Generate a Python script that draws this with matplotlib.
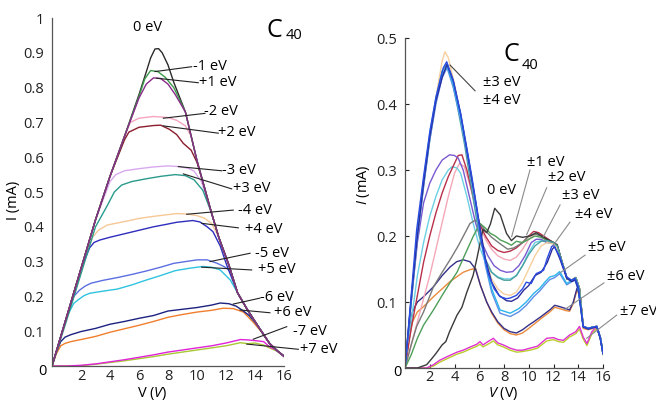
import matplotlib
matplotlib.use("Agg")
import matplotlib.pyplot as plt

plt.rcParams['font.family'] = ['Open Sans', 'DejaVu Sans']
plt.rcParams['mathtext.fontset'] = 'custom'
plt.rcParams['mathtext.rm'] = 'Open Sans'
plt.rcParams['mathtext.it'] = 'Open Sans:italic'

# ---------------- left panel: I-V curves, bias offsets ----------------
v_0 = [0, 1, 2, 3, 4, 5, 6, 6.5, 6.8, 7.1, 7.35, 7.6, 8, 8.4, 9.2, 10, 10.5, 11, 11.5, 12.2, 12.8, 13.5, 14.2, 15, 15.5, 16]
i_0 = [0, 0.14, 0.28, 0.42, 0.545, 0.66, 0.78, 0.845, 0.885, 0.911, 0.912, 0.9, 0.865, 0.815, 0.73, 0.59, 0.515, 0.44, 0.37, 0.29, 0.21, 0.16, 0.115, 0.065, 0.045, 0.028]

v_m1 = [0, 1, 2, 3, 4, 5, 6, 6.4, 6.8, 7.3, 7.8, 8.4, 9.2, 10, 10.5, 11, 11.5, 12.2, 12.8, 13.5, 14.2, 15, 15.5, 16]
i_m1 = [0, 0.14, 0.28, 0.42, 0.545, 0.66, 0.775, 0.825, 0.849, 0.846, 0.83, 0.8, 0.73, 0.59, 0.515, 0.44, 0.37, 0.29, 0.21, 0.16, 0.115, 0.065, 0.045, 0.028]

v_p1 = [0, 1, 2, 3, 4, 5, 6, 6.5, 7.0, 7.5, 8.0, 8.5, 9.2, 10, 10.5, 11, 11.5, 12.2, 12.8, 13.5, 14.2, 15, 15.5, 16]
i_p1 = [0, 0.14, 0.28, 0.42, 0.545, 0.66, 0.77, 0.81, 0.828, 0.826, 0.81, 0.78, 0.73, 0.59, 0.515, 0.44, 0.37, 0.29, 0.21, 0.16, 0.115, 0.065, 0.045, 0.028]

v_m2 = [0, 1, 2, 3, 4, 5, 5.4, 6, 7, 8, 8.6, 9.2, 9.6, 10, 10.5, 11, 11.5, 12.2, 12.8, 13.5, 14.2, 15, 15.5, 16]
i_m2 = [0, 0.14, 0.28, 0.42, 0.545, 0.66, 0.7, 0.712, 0.717, 0.714, 0.706, 0.69, 0.66, 0.59, 0.515, 0.44, 0.37, 0.29, 0.21, 0.16, 0.115, 0.065, 0.045, 0.028]

v_p2 = [0, 1, 2, 3, 4, 5, 5.3, 6, 7, 7.5, 8.1, 8.6, 9.05, 9.6, 10, 10.5, 11, 11.5, 12.2, 12.8, 13.5, 14.2, 15, 15.5, 16]
i_p2 = [0, 0.14, 0.28, 0.42, 0.545, 0.65, 0.672, 0.686, 0.691, 0.692, 0.68, 0.665, 0.64, 0.62, 0.585, 0.515, 0.44, 0.37, 0.29, 0.21, 0.16, 0.115, 0.065, 0.045, 0.028]

v_m3 = [0, 1, 2, 3, 4, 4.4, 5, 6, 7, 8, 8.8, 9.4, 9.8, 10.3, 11, 11.5, 12.2, 12.8, 13.5, 14.2, 15, 15.5, 16]
i_m3 = [0, 0.14, 0.28, 0.42, 0.53, 0.55, 0.561, 0.567, 0.572, 0.575, 0.573, 0.568, 0.56, 0.53, 0.44, 0.37, 0.29, 0.21, 0.16, 0.115, 0.065, 0.045, 0.028]

v_p3 = [0, 1, 2, 3, 3.8, 4.3, 4.8, 5.5, 6.5, 7.5, 8.5, 9.2, 9.8, 10.4, 11, 11.5, 12.2, 12.8, 13.5, 14.2, 15, 15.5, 16]
i_p3 = [0, 0.13, 0.265, 0.4, 0.46, 0.5, 0.52, 0.53, 0.538, 0.545, 0.55, 0.547, 0.535, 0.505, 0.44, 0.37, 0.29, 0.21, 0.16, 0.115, 0.065, 0.045, 0.028]

v_m4 = [0, 1, 2, 2.8, 3.2, 3.8, 5, 6, 7, 8, 8.6, 9.3, 10, 10.5, 11, 11.5, 12.2, 12.8, 13.5, 14.2, 15, 15.5, 16]
i_m4 = [0, 0.14, 0.28, 0.37, 0.39, 0.405, 0.415, 0.424, 0.43, 0.435, 0.438, 0.437, 0.432, 0.425, 0.41, 0.37, 0.29, 0.21, 0.16, 0.115, 0.065, 0.045, 0.028]

v_p4 = [0, 1, 2, 2.6, 2.9, 3.3, 4, 5, 6, 7, 8, 8.6, 9.7, 10.2, 10.7, 11.1, 11.6, 12.05, 12.8, 13.5, 14.2, 15, 15.5, 16]
i_p4 = [0, 0.14, 0.28, 0.34, 0.355, 0.362, 0.37, 0.38, 0.39, 0.4, 0.408, 0.413, 0.418, 0.414, 0.4, 0.386, 0.345, 0.29, 0.21, 0.16, 0.115, 0.065, 0.045, 0.028]

v_m5 = [0, 0.5, 1, 1.5, 1.9, 2.3, 2.7, 3.5, 4.5, 5.5, 6.5, 7.5, 8.4, 9.2, 10, 10.7, 11.4, 11.9, 12.3, 12.8, 13.5, 14.2, 15, 15.5, 16]
i_m5 = [0, 0.07, 0.14, 0.2, 0.218, 0.23, 0.238, 0.246, 0.254, 0.263, 0.273, 0.284, 0.295, 0.3, 0.305, 0.305, 0.295, 0.285, 0.272, 0.21, 0.16, 0.115, 0.065, 0.045, 0.028]

v_p5 = [0, 0.5, 1, 1.5, 1.8, 2.2, 2.6, 3.5, 4.5, 5.5, 6.5, 7.5, 8.5, 9.5, 10.4, 11, 11.6, 12.3, 12.8, 13.5, 14.2, 15, 15.5, 16]
i_p5 = [0, 0.07, 0.14, 0.18, 0.19, 0.202, 0.209, 0.215, 0.221, 0.233, 0.247, 0.26, 0.274, 0.281, 0.286, 0.284, 0.276, 0.247, 0.21, 0.16, 0.115, 0.065, 0.045, 0.028]

v_m6 = [0, 0.3, 0.6, 0.9, 1.3, 2, 3, 4, 5, 6, 7, 8, 9, 10, 11, 11.6, 12.2, 12.7, 13.2, 13.6, 14.2, 15, 15.5, 16]
i_m6 = [0, 0.04, 0.07, 0.083, 0.09, 0.099, 0.108, 0.12, 0.128, 0.137, 0.145, 0.158, 0.163, 0.168, 0.175, 0.181, 0.179, 0.172, 0.158, 0.145, 0.115, 0.065, 0.045, 0.028]

v_p6 = [0, 0.3, 0.6, 0.9, 1.3, 2, 3, 4, 5, 6, 7, 8, 9, 10, 11, 11.8, 12.5, 13.2, 13.9, 14.5, 15, 15.5, 16]
i_p6 = [0, 0.035, 0.058, 0.065, 0.07, 0.076, 0.085, 0.097, 0.107, 0.117, 0.128, 0.14, 0.148, 0.155, 0.16, 0.166, 0.165, 0.155, 0.125, 0.095, 0.065, 0.045, 0.028]

v_m7 = [0, 1, 2, 3, 4, 5, 6, 7, 8, 9, 10, 11, 12, 13, 13.5, 14, 14.6, 15, 15.5, 16]
i_m7 = [0, 0, 0.002, 0.006, 0.012, 0.018, 0.025, 0.032, 0.04, 0.046, 0.052, 0.058, 0.066, 0.076, 0.075, 0.073, 0.07, 0.055, 0.045, 0.028]

v_p7 = [0, 1, 2, 3, 4, 5, 6, 7, 8, 9, 10, 11, 12, 13, 13.5, 14, 14.6, 15, 15.5, 16]
i_p7 = [0, 0, 0.001, 0.005, 0.01, 0.015, 0.021, 0.027, 0.034, 0.04, 0.046, 0.052, 0.058, 0.067, 0.064, 0.066, 0.06, 0.052, 0.043, 0.027]

left_series = [
    (v_p7, i_p7, '#a8c834'), (v_m7, i_m7, '#e022d8'),
    (v_p6, i_p6, '#f07e2c'), (v_m6, i_m6, '#1c2280'),
    (v_p5, i_p5, '#2fc3e0'), (v_m5, i_m5, '#5b6fe0'),
    (v_m4, i_m4, '#f6c896'), (v_p4, i_p4, '#2d2dbe'),
    (v_m3, i_m3, '#d8a8f0'), (v_p3, i_p3, '#2a9a8c'),
    (v_m2, i_m2, '#f5a5bd'), (v_p2, i_p2, '#8b1c2c'),
    (v_0, i_0, '#2b2b2b'), (v_m1, i_m1, '#3c9a4a'), (v_p1, i_p1, '#8a2a8a'),
]

left_labels = ['-1 eV', '+1 eV', '-2 eV', '+2 eV', '-3 eV', '+3 eV', '-4 eV',
               '+4 eV', '-5 eV', '+5 eV', '-6 eV', '+6 eV', '-7 eV', '+7 eV']
left_text_v = [9.72, 10.14, 10.48, 11.45, 11.72, 12.48, 12.83, 13.31, 14.0, 14.21, 14.34, 15.31, 16.6, 17.1]
left_text_i = [0.86, 0.814, 0.731, 0.67, 0.563, 0.509, 0.446, 0.391, 0.322, 0.276, 0.197, 0.153, 0.099, 0.048]
left_lead_v0 = [7.10, 7.22, 7.68, 7.68, 8.71, 9.06, 9.29, 10.32, 10.9, 10.32, 12.5, 12.97, 13.88, 13.43]
left_lead_i0 = [0.846, 0.827, 0.712, 0.69, 0.573, 0.552, 0.436, 0.41, 0.3, 0.284, 0.178, 0.161, 0.077, 0.063]
left_lead_v1 = [9.63, 10.09, 10.55, 11.47, 11.70, 12.39, 12.5, 12.85, 13.66, 13.77, 14.34, 15.03, 16.19, 16.99]
left_lead_i1 = [0.86, 0.814, 0.726, 0.669, 0.561, 0.509, 0.448, 0.397, 0.324, 0.276, 0.195, 0.153, 0.113, 0.048]

# ---------------- right panel ----------------
tail_v = [12.7, 13.1, 13.5, 13.8, 14.1, 14.4, 14.8, 15.2, 15.5, 15.8, 16]

v_r0 = [0, 1, 1.75, 2.2, 2.5, 3, 3.3, 3.6, 4.2, 4.6, 5, 5.5, 5.8, 6.3, 6.6, 6.9, 7.25, 7.7, 8.2, 8.6, 9, 9.5, 10.1, 10.6, 11.2, 11.8, 12.3] + tail_v
i_r0 = [0, 0, 0.005, 0.015, 0.022, 0.035, 0.04, 0.055, 0.08, 0.092, 0.115, 0.14, 0.165, 0.21, 0.205, 0.218, 0.242, 0.232, 0.204, 0.193, 0.2, 0.198, 0.2, 0.205, 0.198, 0.192, 0.187,
        0.16, 0.135, 0.133, 0.137, 0.12, 0.063, 0.06, 0.062, 0.063, 0.045, 0.022]

v_rg = [0, 0.5, 1, 1.5, 2.3, 3, 3.6, 4.2, 4.8, 5.5, 6.06, 6.5, 6.9, 7.3, 7.7, 8.2, 8.6, 9, 9.5, 10, 10.5, 11, 11.5, 12, 12.3] + tail_v
i_rg = [0, 0.02, 0.045, 0.065, 0.088, 0.11, 0.128, 0.145, 0.17, 0.199, 0.219, 0.212, 0.204, 0.2, 0.194, 0.19, 0.186, 0.192, 0.19, 0.195, 0.2, 0.198, 0.193, 0.19, 0.185,
        0.16, 0.135, 0.133, 0.137, 0.12, 0.063, 0.06, 0.062, 0.063, 0.045, 0.022]

v_rk = [0, 0.5, 0.94, 1.5, 2.3, 3, 3.64, 4.3, 5, 5.25, 5.66, 6, 6.5, 7, 7.7, 8.3, 8.8, 9.5, 10, 10.5, 11, 11.5, 12, 12.3] + tail_v
i_rk = [0, 0.035, 0.063, 0.085, 0.123, 0.145, 0.164, 0.185, 0.21, 0.219, 0.224, 0.22, 0.208, 0.198, 0.188, 0.18, 0.182, 0.19, 0.2, 0.203, 0.2, 0.195, 0.19, 0.185,
        0.16, 0.135, 0.133, 0.137, 0.12, 0.063, 0.06, 0.062, 0.063, 0.045, 0.022]

v_rr = [0, 0.5, 1, 1.5, 2, 2.5, 3, 3.5, 4, 4.3, 4.6, 5, 5.5, 6, 6.5, 7, 7.5, 8, 8.5, 9, 9.5, 10, 10.4, 10.8, 11.2, 11.6, 12, 12.3] + tail_v
i_rr = [0, 0.06, 0.11, 0.16, 0.2, 0.235, 0.265, 0.29, 0.31, 0.322, 0.323, 0.3, 0.26, 0.22, 0.2, 0.185, 0.178, 0.175, 0.177, 0.182, 0.19, 0.2, 0.207, 0.205, 0.2, 0.195, 0.19, 0.185,
        0.16, 0.135, 0.133, 0.137, 0.12, 0.063, 0.06, 0.062, 0.063, 0.045, 0.022]

v_rp = [0, 1, 2, 3, 3.5, 4, 4.4, 4.8, 5.2, 5.6, 6, 6.5, 7, 7.5, 8, 8.5, 9, 9.5, 10, 10.5, 11, 11.5, 12, 12.3] + tail_v
i_rp = [0, 0.07, 0.14, 0.22, 0.26, 0.295, 0.31, 0.305, 0.28, 0.25, 0.22, 0.195, 0.18, 0.17, 0.165, 0.163, 0.168, 0.18, 0.195, 0.203, 0.2, 0.195, 0.19, 0.185,
        0.16, 0.135, 0.133, 0.137, 0.12, 0.063, 0.06, 0.062, 0.063, 0.045, 0.022]

v_rv = [0, 0.5, 1, 1.5, 2, 2.5, 3, 3.6, 4, 4.3, 4.7, 5.2, 5.7, 6.2, 6.7, 7.2, 7.7, 8.2, 8.7, 9.2, 9.7, 10.2, 10.6, 11, 11.5, 12, 12.3] + tail_v
i_rv = [0, 0.1, 0.19, 0.25, 0.28, 0.3, 0.315, 0.323, 0.322, 0.318, 0.3, 0.26, 0.22, 0.19, 0.17, 0.155, 0.148, 0.145, 0.146, 0.155, 0.17, 0.19, 0.195, 0.195, 0.19, 0.19, 0.185,
        0.16, 0.135, 0.133, 0.137, 0.12, 0.063, 0.06, 0.062, 0.063, 0.045, 0.022]

v_rc = [0, 0.5, 1, 1.5, 2, 2.5, 3, 3.5, 3.8, 4.2, 4.5, 5, 5.5, 6, 6.5, 7, 7.5, 8, 8.5, 9, 9.5, 10, 10.5, 11, 11.5, 12, 12.3] + tail_v
i_rc = [0, 0.07, 0.14, 0.19, 0.23, 0.26, 0.285, 0.3, 0.305, 0.303, 0.295, 0.26, 0.22, 0.185, 0.16, 0.145, 0.138, 0.135, 0.135, 0.14, 0.155, 0.175, 0.19, 0.193, 0.19, 0.188, 0.185,
        0.16, 0.135, 0.133, 0.137, 0.12, 0.063, 0.06, 0.062, 0.063, 0.045, 0.022]

v_ro = [0, 0.5, 1, 1.5, 2, 2.5, 3, 3.23, 3.5, 4, 4.5, 5, 5.5, 6, 6.5, 7, 7.5, 8, 8.5, 9, 9.5, 10, 10.5, 11, 11.5, 12, 12.3] + tail_v
i_ro = [0, 0.1, 0.2, 0.28, 0.35, 0.41, 0.465, 0.479, 0.47, 0.43, 0.38, 0.33, 0.27, 0.21, 0.165, 0.135, 0.12, 0.112, 0.11, 0.115, 0.13, 0.15, 0.17, 0.185, 0.19, 0.188, 0.183,
        0.16, 0.135, 0.133, 0.137, 0.12, 0.063, 0.06, 0.062, 0.063, 0.045, 0.022]

v_rt = [0, 0.5, 1, 1.5, 2, 2.5, 3, 3.35, 3.7, 4.2, 4.8, 5.4, 6, 6.5, 7, 7.5, 8, 8.5, 9, 9.5, 10, 10.5, 11, 11.5, 12, 12.3] + tail_v
i_rt = [0, 0.1, 0.2, 0.275, 0.345, 0.405, 0.45, 0.46, 0.445, 0.4, 0.34, 0.27, 0.2, 0.165, 0.145, 0.137, 0.133, 0.133, 0.14, 0.155, 0.172, 0.185, 0.192, 0.193, 0.19, 0.185,
        0.16, 0.135, 0.133, 0.137, 0.12, 0.063, 0.06, 0.062, 0.063, 0.045, 0.022]

v_rb = [0, 0.5, 0.94, 1.5, 2.02, 2.5, 2.83, 3.1, 3.37, 3.9, 4.5, 4.98, 5.4, 5.79, 6.2, 6.73, 7.2, 7.68, 8.2, 8.5, 9, 9.5, 9.8, 10.2, 10.6, 11.2, 11.45, 11.85, 12.0, 12.5, 13.07, 13.47, 13.74, 14.0, 14.4, 14.8, 15.2, 15.5, 15.76, 16]
i_rb = [0, 0.11, 0.209, 0.29, 0.36, 0.41, 0.436, 0.455, 0.464, 0.436, 0.385, 0.335, 0.29, 0.244, 0.189, 0.143, 0.12, 0.108, 0.105, 0.106, 0.11, 0.12, 0.13, 0.128, 0.143, 0.148, 0.164, 0.184, 0.186, 0.169, 0.138, 0.133, 0.136, 0.123, 0.063, 0.06, 0.062, 0.063, 0.047, 0.022]

v_rn = [0, 0.5, 1, 1.5, 2, 2.5, 3, 3.4, 3.9, 4.5, 5, 5.5, 6, 6.5, 7, 7.6, 8.2, 8.6, 9.1, 9.6, 10, 10.5, 11, 11.5, 11.9, 12.1, 12.5, 13.07, 13.47, 13.74, 14.0, 14.4, 14.8, 15.2, 15.5, 15.76, 16]
i_rn = [0, 0.105, 0.2, 0.28, 0.35, 0.405, 0.44, 0.46, 0.435, 0.385, 0.33, 0.275, 0.22, 0.165, 0.13, 0.11, 0.102, 0.101, 0.106, 0.118, 0.125, 0.14, 0.145, 0.16, 0.18, 0.184, 0.166, 0.136, 0.131, 0.134, 0.12, 0.062, 0.059, 0.061, 0.062, 0.046, 0.022]

v_rs = [0, 0.5, 1, 1.5, 2, 2.5, 3, 3.4, 3.9, 4.5, 5, 5.5, 6, 6.5, 7, 7.68, 8.5, 9.2, 9.8, 10.4, 10.9, 11.3, 11.7, 12.1, 12.5, 13.07, 13.5, 13.74, 14.0, 14.4, 14.8, 15.2, 15.5, 15.8, 16]
i_rs = [0, 0.105, 0.205, 0.285, 0.355, 0.41, 0.445, 0.458, 0.43, 0.38, 0.33, 0.275, 0.215, 0.16, 0.12, 0.088, 0.083, 0.09, 0.1, 0.113, 0.121, 0.13, 0.138, 0.14, 0.146, 0.128, 0.133, 0.135, 0.12, 0.063, 0.06, 0.062, 0.063, 0.045, 0.022]

v_rl = [0, 0.5, 1, 1.5, 2, 2.5, 3, 3.4, 3.9, 4.5, 5, 5.5, 6, 6.5, 7, 7.68, 8.5, 9.2, 9.8, 10.4, 10.9, 11.3, 11.7, 12.1, 12.5, 13.07, 13.5, 13.74, 14.0, 14.4, 14.8, 15.2, 15.5, 15.8, 16]
i_rl = [0, 0.1, 0.195, 0.275, 0.345, 0.4, 0.44, 0.455, 0.425, 0.375, 0.325, 0.27, 0.21, 0.155, 0.115, 0.083, 0.078, 0.085, 0.095, 0.108, 0.117, 0.126, 0.134, 0.137, 0.143, 0.126, 0.131, 0.133, 0.118, 0.062, 0.059, 0.061, 0.062, 0.044, 0.022]

v_r6 = [0, 0.3, 0.6, 1, 1.5, 2.3, 3, 3.64, 4.17, 4.7, 5.25, 5.7, 6.1, 6.6, 7, 7.5, 8, 8.5, 9, 9.5, 10, 10.4, 11, 11.7, 12.1, 12.5, 13, 13.3, 13.6, 13.9, 14.1, 14.4, 14.8, 15.2, 15.5, 15.8, 16]
i_n6 = [0, 0.05, 0.085, 0.1, 0.108, 0.123, 0.14, 0.153, 0.161, 0.164, 0.161, 0.15, 0.125, 0.1, 0.085, 0.07, 0.06, 0.055, 0.053, 0.058, 0.065, 0.07, 0.078, 0.088, 0.095, 0.093, 0.09, 0.088, 0.1, 0.121, 0.113, 0.063, 0.06, 0.062, 0.063, 0.045, 0.022]
i_o6 = [0, 0.04, 0.07, 0.085, 0.093, 0.108, 0.12, 0.131, 0.138, 0.145, 0.149, 0.151, 0.125, 0.1, 0.083, 0.068, 0.058, 0.052, 0.05, 0.053, 0.06, 0.066, 0.075, 0.085, 0.092, 0.09, 0.087, 0.086, 0.098, 0.118, 0.11, 0.06, 0.058, 0.06, 0.062, 0.044, 0.022]

v_r7 = [0, 1, 1.75, 2.3, 2.83, 3.5, 4.2, 4.7, 5.3, 5.8, 6.06, 6.3, 6.7, 7.14, 7.5, 7.94, 8.5, 9.03, 9.5, 10.1, 10.7, 11.45, 12, 12.4, 12.8, 13.3, 13.8, 14.1, 14.4, 14.7, 15.1, 15.5, 15.8, 16]
i_m7r = [0, 0, 0, 0.005, 0.012, 0.018, 0.024, 0.027, 0.032, 0.036, 0.04, 0.035, 0.04, 0.045, 0.038, 0.035, 0.03, 0.027, 0.027, 0.03, 0.033, 0.045, 0.046, 0.043, 0.042, 0.05, 0.055, 0.063, 0.047, 0.037, 0.055, 0.063, 0.045, 0.022]
i_y7r = [0, 0, 0, 0.003, 0.009, 0.015, 0.021, 0.024, 0.029, 0.033, 0.036, 0.032, 0.036, 0.041, 0.035, 0.032, 0.027, 0.024, 0.025, 0.027, 0.03, 0.041, 0.043, 0.04, 0.039, 0.047, 0.052, 0.059, 0.044, 0.034, 0.052, 0.06, 0.043, 0.02]

right_series = [
    (v_r7, i_y7r, '#bccc2c'), (v_r7, i_m7r, '#e030d0'),
    (v_r6, i_o6, '#ec8a3c'), (v_r6, i_n6, '#34308a'),
    (v_rp, i_rp, '#f4a8b8'), (v_rc, i_rc, '#6ad0e4'),
    (v_rr, i_rr, '#b8304a'), (v_rv, i_rv, '#7a5ad0'),
    (v_rk, i_rk, '#7a7a7a'), (v_rg, i_rg, '#4e9e58'), (v_r0, i_r0, '#3a3a3a'),
    (v_ro, i_ro, '#f6cf9c'), (v_rt, i_rt, '#4aa0a0'),
    (v_rl, i_rl, '#5c8ee8'), (v_rs, i_rs, '#2eb4ea'),
    (v_rn, i_rn, '#2a2a9a'), (v_rb, i_rb, '#2a4be0'),
]

right_labels = ['±1 eV', '±2 eV', '±3 eV', '±4 eV', '±5 eV', '±6 eV', '±7 eV']
right_text_v = [9.86, 11.56, 12.69, 13.74, 14.79, 16.32, 17.37]
right_text_i = [0.311, 0.288, 0.261, 0.232, 0.183, 0.138, 0.085]
right_lead_v0 = [10.1, 11.45, 12.53, 13.33, 14.55, 16.08, 17.1]
right_lead_i0 = [0.3, 0.273, 0.247, 0.221, 0.171, 0.129, 0.08]
right_lead_v1 = [8.62, 9.83, 11.18, 11.98, 12.6, 12.93, 14.68]
right_lead_i1 = [0.199, 0.202, 0.199, 0.186, 0.145, 0.089, 0.045]

fig = plt.figure(figsize=(6.56, 4.01), dpi=100)
ax1 = fig.add_axes([52 / 656, 35 / 401, 232 / 656, 348 / 401])
ax2 = fig.add_axes([405 / 656, 33 / 401, 198 / 656, 330 / 401])

for v, i, c in left_series:
    ax1.plot(v, i, color=c, lw=1.0, solid_joinstyle='round')
for v, i, c in right_series:
    ax2.plot(v, i, color=c, lw=1.0, solid_joinstyle='round')

for ax in (ax1, ax2):
    ax.set_xlim(0, 16)
    ax.patch.set_alpha(0)
    for s in ('top', 'right'):
        ax.spines[s].set_visible(False)
    for s in ('left', 'bottom'):
        ax.spines[s].set_color('#555555')
        ax.spines[s].set_linewidth(0.9)
    ax.set_xticks([2, 4, 6, 8, 10, 12, 14, 16])
    ax.set_xticklabels(['2', '4', '6', '8', '10', '12', '14', '16'])

ax1.set_ylim(0, 1)
ax1.set_yticks([0.1, 0.2, 0.3, 0.4, 0.5, 0.6, 0.7, 0.8, 0.9, 1.0])
ax1.set_yticklabels(['0.1', '0.2', '0.3', '0.4', '0.5', '0.6', '0.7', '0.8', '0.9', '1'])
ax1.tick_params(length=0, pad=6, labelsize=10.5, colors='#222222')
ax1.tick_params(axis='x', pad=2)
ax1.text(-0.043, -0.017, '0', transform=ax1.transAxes, ha='center', va='center', fontsize=10.5)

ax2.set_ylim(0, 0.5)
ax2.set_yticks([0.1, 0.2, 0.3, 0.4, 0.5])
ax2.set_yticklabels(['0.1', '0.2', '0.3', '0.4', '0.5'])
ax2.tick_params(direction='in', length=3, width=0.8, pad=6, labelsize=10.5, colors='#222222')
ax2.tick_params(axis='x', pad=1.5)
ax2.text(-0.04, -0.015, '0', transform=ax2.transAxes, ha='center', va='center', fontsize=10.5)

# leader lines and labels, left panel
for k, lab in enumerate(left_labels):
    ax1.plot([left_lead_v0[k], left_lead_v1[k]], [left_lead_i0[k], left_lead_i1[k]],
             color='#222222', lw=0.8, clip_on=False)
    ax1.text(left_text_v[k], left_text_i[k], lab, ha='left', va='center',
             fontsize=10.5, clip_on=False)
ax1.text(6.62, 0.974, '0 eV', ha='center', va='center', fontsize=10.5)
ax1.text(14.8, 0.965, 'C', ha='left', va='center', fontsize=18)
ax1.text(16.1, 0.95, '40', ha='left', va='center', fontsize=10.5)

# leader lines and labels, right panel
for k, lab in enumerate(right_labels):
    ax2.plot([right_lead_v0[k], right_lead_v1[k]], [right_lead_i0[k], right_lead_i1[k]],
             color='#8a8a8a', lw=0.8, clip_on=False)
    ax2.text(right_text_v[k], right_text_i[k], lab, ha='left', va='center',
             fontsize=10.5, clip_on=False)
ax2.plot([3.64, 5.66], [0.459, 0.42], color='#444444', lw=0.8, clip_on=False)
ax2.text(6.3, 0.432, '±3 eV', ha='left', va='center', fontsize=10.5)
ax2.text(6.3, 0.406, '±4 eV', ha='left', va='center', fontsize=10.5)
ax2.text(6.63, 0.269, '0 eV', ha='left', va='center', fontsize=10.5)
ax2.text(7.95, 0.475, 'C', ha='left', va='center', fontsize=18)
ax2.text(9.4, 0.458, '40', ha='left', va='center', fontsize=10.5)

# axis titles
fig.text(14 / 656, 1 - 200 / 401, 'I (mA)', rotation=90, ha='center', va='center', fontsize=10.5)
fig.text(152 / 656, 1 - 394 / 401, r'V ($\mathit{V}$)', ha='center', va='center', fontsize=10.5)
fig.text(363 / 656, 1 - 185 / 401, r'$\mathit{I}$ (mA)', rotation=90, ha='center', va='center', fontsize=10.5)
fig.text(503 / 656, 1 - 393 / 401, r'$\mathit{V}$ (V)', ha='center', va='center', fontsize=10.5)

fig.savefig('out.png', dpi=100)
